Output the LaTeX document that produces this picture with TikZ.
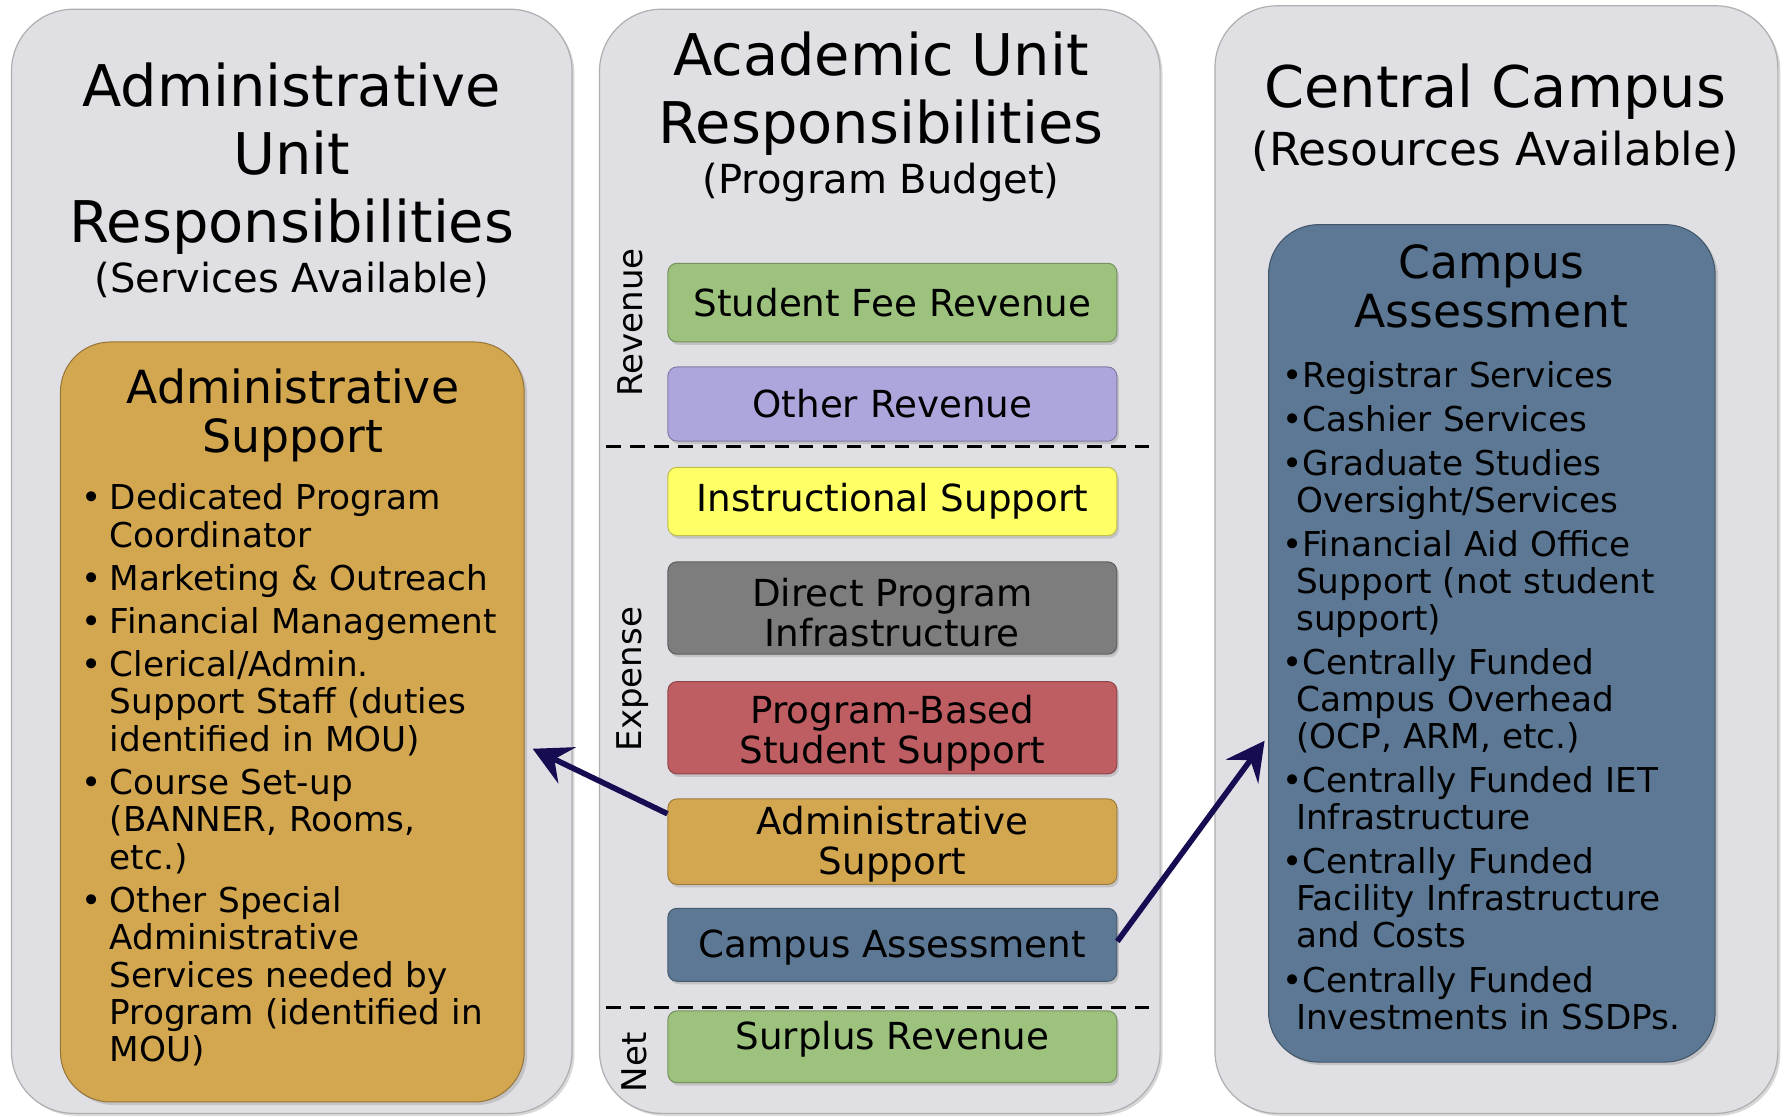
\documentclass[tikz,border=0pt]{standalone}
\usepackage{fontspec}
\setmainfont{DejaVu Sans}
\usepackage{tikz}
\usetikzlibrary{arrows.meta,positioning,calc,shadows}

\definecolor{panelgray}{RGB}{224,224,228}
\definecolor{paneledge}{RGB}{175,175,178}
\definecolor{admorange}{RGB}{211,166,80}
\definecolor{revgreen}{RGB}{156,194,126}
\definecolor{revlilac}{RGB}{173,166,220}
\definecolor{instyellow}{RGB}{255,255,102}
\definecolor{infragray}{RGB}{125,125,125}
\definecolor{studred}{RGB}{190,93,98}
\definecolor{campblue}{RGB}{92,120,148}
\definecolor{arrownavy}{RGB}{22,12,82}

\newcommand{\bigtitle}{\fontsize{28.7}{34.1}\selectfont}
\newcommand{\subtitlefont}{\fontsize{20}{24}\selectfont}
\newcommand{\bigsubfont}{\fontsize{22.7}{26}\selectfont}
\newcommand{\boxtitlefont}{\fontsize{22.8}{24.5}\selectfont}
\newcommand{\listfont}{\fontsize{17.1}{18.7}\selectfont}
\newcommand{\camplistfont}{\fontsize{17.1}{18.5}\selectfont}
\newcommand{\boxfont}{\fontsize{18.6}{20}\selectfont}
\newcommand{\sidefont}{\fontsize{17}{20}\selectfont}

\newenvironment{admitems}{\begin{list}{\textbullet}{%
  \setlength{\leftmargin}{14.8pt}\setlength{\labelwidth}{10.8pt}%
  \setlength{\labelsep}{4pt}\setlength{\itemindent}{0pt}%
  \setlength{\itemsep}{2.8pt}\setlength{\parsep}{0pt}%
  \setlength{\topsep}{0pt}\setlength{\partopsep}{0pt}}}{\end{list}}
\newenvironment{campitems}{\begin{list}{\textbullet}{%
  \setlength{\leftmargin}{6.8pt}\setlength{\labelwidth}{0pt}%
  \setlength{\labelsep}{0pt}\setlength{\itemindent}{-6.8pt}%
  \setlength{\itemsep}{3.5pt}\setlength{\parsep}{0pt}%
  \setlength{\topsep}{0pt}\setlength{\partopsep}{0pt}}}{\end{list}}

\begin{document}
\begin{tikzpicture}[x=0.02cm,y=-0.02cm,
  panel/.style={draw=paneledge,fill=panelgray,line width=0.6pt,rounded corners=31pt,
    minimum width=9.84cm,minimum height=19.38cm,
    drop shadow={opacity=0.3,shadow xshift=1.2pt,shadow yshift=-1.2pt}},
  bigbox/.style={fill=#1,draw=#1!70!black,line width=0.5pt,rounded corners=25pt,
    drop shadow={opacity=0.3,shadow xshift=1.5pt,shadow yshift=-1.5pt}},
  midbox/.style={fill=#1,draw=#1!75!black,line width=0.5pt,rounded corners=4.5pt,
    minimum width=7.88cm,inner sep=0pt,align=center,font=\boxfont,
    drop shadow={opacity=0.3,shadow xshift=1pt,shadow yshift=-1.5pt}},
  title/.style={anchor=north,align=center,inner sep=0pt,font=\bigtitle},
  subtitle/.style={anchor=base,inner sep=0pt,font=\subtitlefont},
  boxtitle/.style={anchor=north,align=center,inner sep=0pt,font=\boxtitlefont},
  listnode/.style={anchor=north west,inner sep=0pt,text width=8cm,align=left,font=\listfont},
  sidelabel/.style={rotate=90,font=\sidefont,inner sep=0pt},
  divider/.style={dash pattern=on 7.4pt off 4.6pt,line width=1.4pt},
  flow/.style={draw=arrownavy,line width=2.8pt,-{Stealth[length=19pt,width=20pt,inset=7pt]}}]
\path[use as bounding box,fill=white] (0,0) rectangle (1568,980);

% the three columns
\node[panel] (adminpanel) at (256,492.5) {};
\node[panel] (acadpanel) at (772,492.5) {};
\node[panel,minimum width=9.88cm,minimum height=19.44cm] (campuspanel) at (1313,491) {};

\node[title] (admintitle) at (256,54.6) {Administrative\\Unit\\Responsibilities};
\node[subtitle] (adminsub) at (256,257) {(Services Available)};
\node[title] (acadtitle) at (773,27.6) {Academic Unit\\Responsibilities};
\node[subtitle] (acadsub) at (773,170) {(Program Budget)};
\node[title,anchor=base] (campustitle) at (1312,94) {Central Campus};
\node[subtitle,font=\bigsubfont] (campussub) at (1312,145) {(Resources Available)};

% left: administrative support
\node[bigbox=admorange,minimum width=8.14cm,minimum height=13.34cm] (adminbox) at (256.5,633.5) {};
\node[boxtitle] (adminboxtitle) at (257,323.6) {Administrative\\Support};
\node[listnode] (adminitems) at (70,414) {\begin{admitems}
  \item Dedicated Program\newline Coordinator
  \item Marketing \& Outreach
  \item Financial Management
  \item Clerical/Admin.\newline Support Staff (duties\newline identified in MOU)
  \item Course Set-up\newline (BANNER, Rooms,\newline etc.)
  \item Other Special\newline Administrative\newline Services needed by\newline Program (identified in\newline MOU)
\end{admitems}};

% right: campus assessment
\node[bigbox=campblue,minimum width=7.84cm,minimum height=14.7cm] (campusbox) at (1309,564.5) {};
\node[boxtitle] (campusboxtitle) at (1308.5,214.6) {Campus\\Assessment};
\node[listnode,font=\camplistfont] (campusitems) at (1125,307) {\begin{campitems}
  \item Registrar Services
  \item Cashier Services
  \item Graduate Studies\newline Oversight/Services
  \item Financial Aid Office\newline Support (not student\newline support)
  \item Centrally Funded\newline Campus Overhead\newline (OCP, ARM, etc.)
  \item Centrally Funded IET\newline Infrastructure
  \item Centrally Funded\newline Facility Infrastructure\newline and Costs
  \item Centrally Funded\newline Investments in SSDPs.
\end{campitems}};

% middle: program budget
\node[midbox=revgreen,minimum height=1.38cm] (feerev) at (783,265.5) {Student Fee Revenue};
\node[midbox=revlilac,minimum height=1.3cm] (otherrev) at (783,354.5) {Other Revenue};
\node[midbox=instyellow,minimum height=1.2cm] (instsup) at (783,440) {Instructional Support};
\node[midbox=infragray,minimum height=1.62cm,text height=38.7pt] (directinf) at (783,533.5) {Direct Program\\Infrastructure};
\node[midbox=studred,minimum height=1.62cm,text height=39.8pt] (studsup) at (783,638.5) {Program-Based\\Student Support};
\node[midbox=admorange,minimum height=1.5cm,text height=36.9pt] (adminsup) at (783,738.5) {Administrative\\Support};
\node[midbox=campblue,minimum height=1.28cm,text height=17.5pt,text depth=4.5pt] (campassess) at (783,829) {Campus Assessment};
\node[midbox=revgreen,minimum height=1.26cm,text height=14.1pt,text depth=11.3pt] (surplus) at (783,918.5) {Surplus Revenue};

\node[sidelabel] (revlabel) at (553,283) {Revenue};
\node[sidelabel] (explabel) at (555,596) {Expense};
\node[sidelabel] (netlabel) at (557,932) {Net};

\draw[divider] (532,392) -- (1008,392);
\draw[divider] (532,884) -- (1008,884);

% where the money goes
\draw[flow] ([yshift=0.49cm]adminsup.west) -- ([xshift=0.14cm,yshift=-0.47cm]adminbox.east);
\draw[flow] ([yshift=0.06cm]campassess.east) -- ([xshift=-0.06cm,yshift=-1.71cm]campusbox.west);
\end{tikzpicture}
\end{document}
